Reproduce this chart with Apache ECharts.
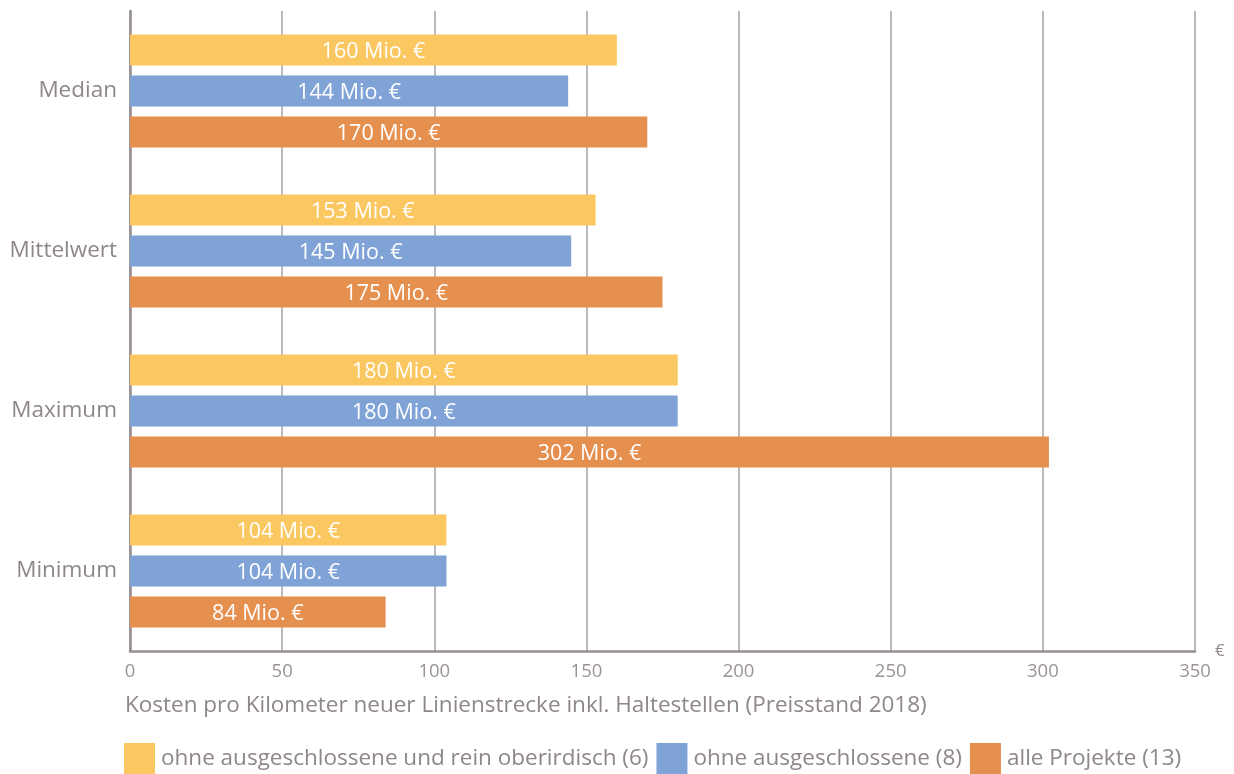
<!DOCTYPE html>
<html>
<head>
<meta charset="utf-8">
<script src="https://cdn.jsdelivr.net/npm/echarts@6/dist/echarts.min.js"></script>
<style>
  html, body { margin: 0; padding: 0; background: #fff; }
  #chart { width: 1234px; height: 774px; }
</style>
</head>
<body>
<div id="chart"></div>
<script>
var categories = ['Median', 'Mittelwert', 'Maximum', 'Minimum'];
var seriesNames = ['ohne ausgeschlossene und rein oberirdisch (6)', 'ohne ausgeschlossene (8)', 'alle Projekte (13)'];
var oberirdisch = [160, 153, 180, 104];
var ohneAusgeschl = [144, 145, 180, 104];
var alleProjekte = [170, 175, 302, 84];
var xTicks = [0, 50, 100, 150, 200, 250, 300, 350];

var colors = ['#fbc760', '#7fa3d6', '#e6904f'];
var grey = '#8e8689';
var font = 'Open Sans';

var chart = echarts.init(document.getElementById('chart'));

function bar(name, data, color) {
  return {
    name: name,
    type: 'bar',
    data: data,
    barWidth: 31,
    barGap: '32%',
    itemStyle: { color: color },
    label: {
      show: true,
      position: 'inside',
      offset: [0, 2],
      color: '#fff',
      fontFamily: font,
      fontSize: 21.5,
      formatter: function (p) { return p.value + ' Mio. €'; }
    }
  };
}

var option = {
  animation: false,
  textStyle: { fontFamily: font },
  grid: { left: 130, right: 39, top: 11, bottom: 123 },
  title: {
    text: 'Kosten pro Kilometer neuer Linienstrecke inkl. Haltestellen (Preisstand 2018)',
    left: 120,
    top: 689,
    textStyle: { color: grey, fontSize: 22.5, fontWeight: 'normal', fontFamily: font }
  },
  legend: {
    left: 119,
    top: 738,
    itemWidth: 31,
    itemHeight: 31,
    itemGap: 8,
    icon: 'rect',
    data: seriesNames,
    textStyle: { color: grey, fontSize: 22.5, fontFamily: font, padding: [10, 0, 0, 1] }
  },
  xAxis: {
    type: 'value',
    min: 0,
    max: 350,
    interval: 50,
    name: '€',
    nameLocation: 'end',
    nameGap: 20,
    nameTextStyle: { color: grey, fontSize: 17, verticalAlign: 'middle' },
    axisLine: { show: true, lineStyle: { color: '#968d90', width: 2.5 } },
    axisTick: { show: false },
    axisLabel: {
      color: '#9a9295', fontSize: 18.5, margin: 11,
      formatter: function (v) { return xTicks.indexOf(v) >= 0 ? String(v) : ''; }
    },
    splitLine: { show: true, lineStyle: { color: '#aaa2a5', width: 1.5 } }
  },
  yAxis: {
    type: 'category',
    inverse: true,
    data: categories,
    axisLine: { show: true, lineStyle: { color: '#968d90', width: 2.5 } },
    axisTick: { show: false },
    axisLabel: { color: grey, fontSize: 22.5, margin: 13, padding: [4, 0, 0, 0] }
  },
  series: [
    bar(seriesNames[0], oberirdisch, colors[0]),
    bar(seriesNames[1], ohneAusgeschl, colors[1]),
    bar(seriesNames[2], alleProjekte, colors[2])
  ]
};

chart.setOption(option);
</script>
</body>
</html>
